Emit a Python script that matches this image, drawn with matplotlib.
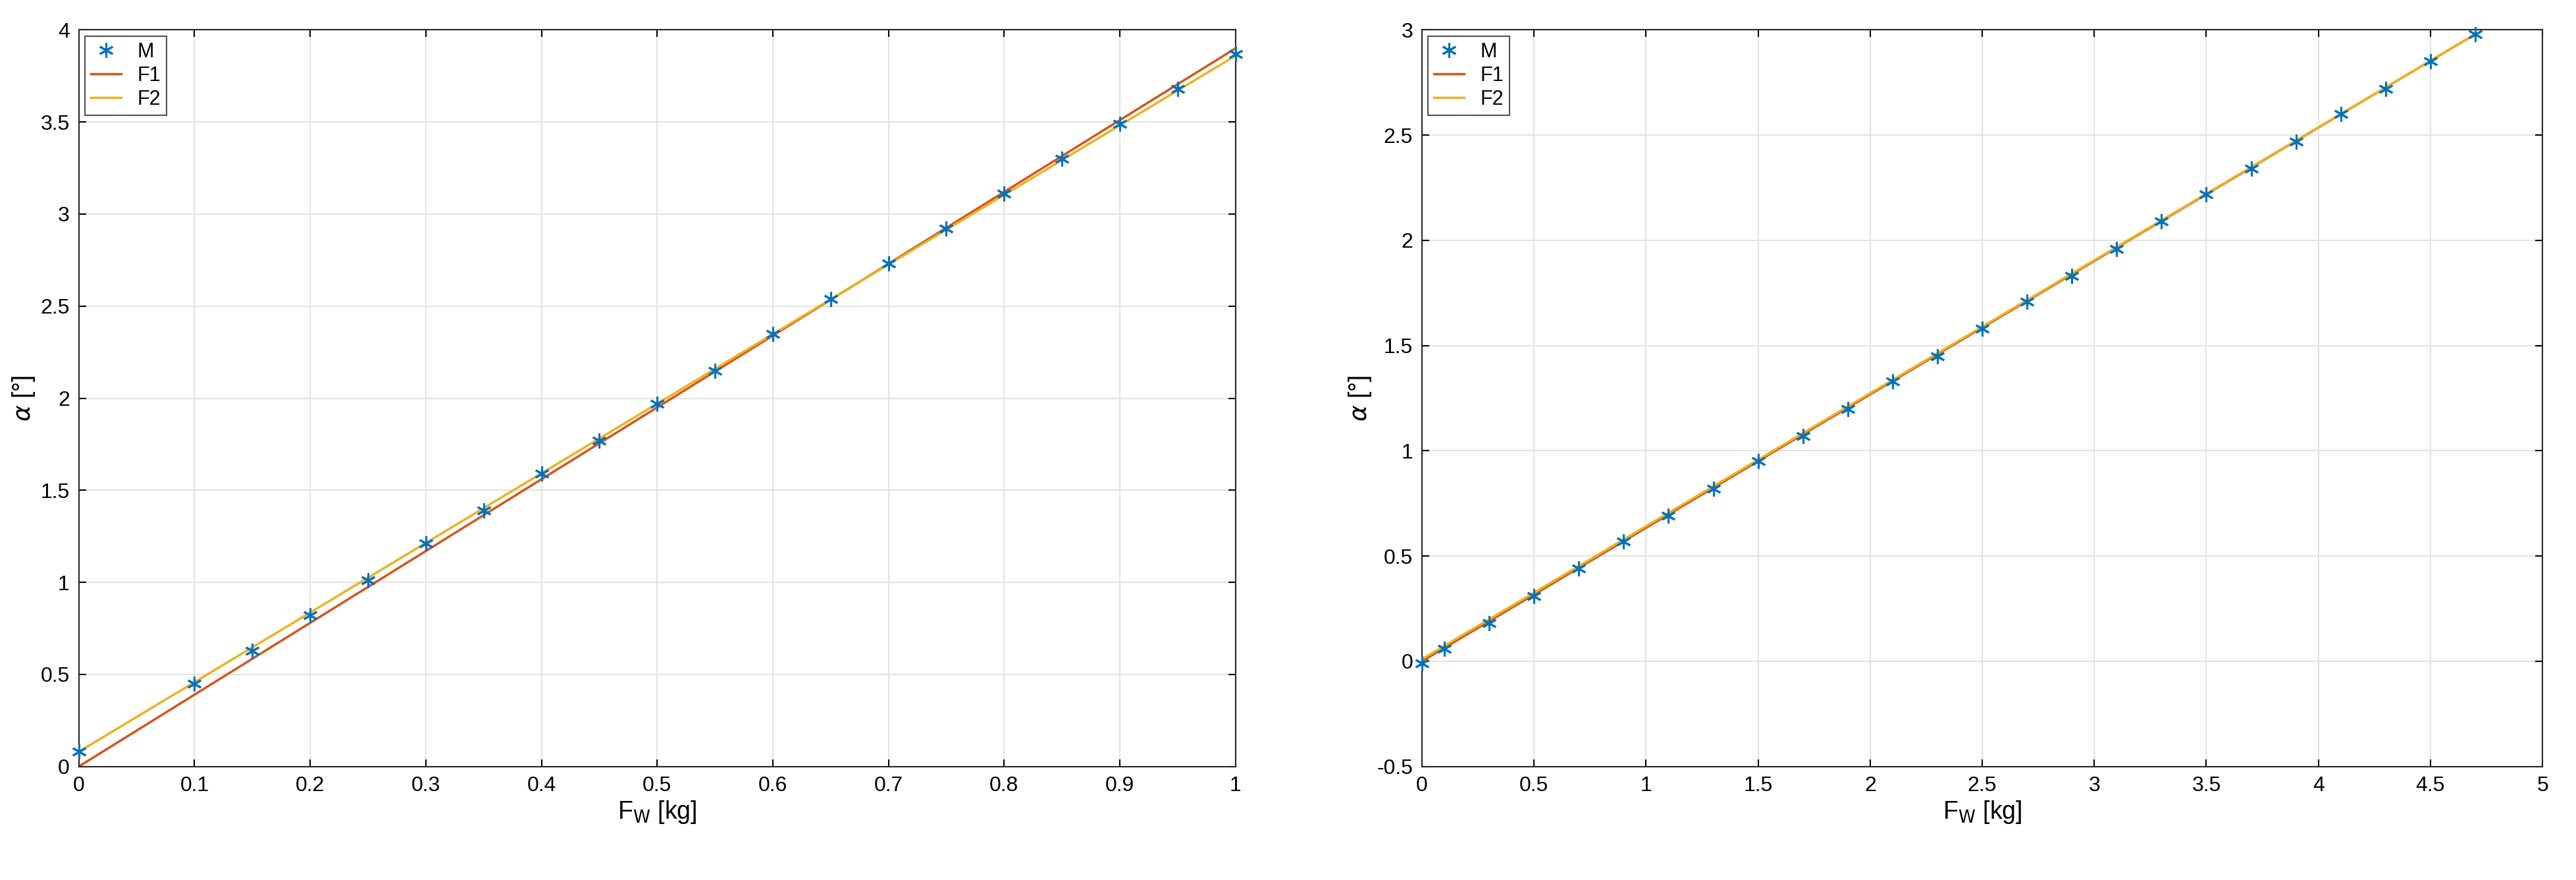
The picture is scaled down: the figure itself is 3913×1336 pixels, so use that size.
import numpy as np
import matplotlib.pyplot as plt

# left panel data
left_x = [0, 0.1, 0.15, 0.2, 0.25, 0.3, 0.35, 0.4, 0.45, 0.5, 0.55, 0.6, 0.65, 0.7, 0.75, 0.8, 0.85, 0.9, 0.95, 1.0]
left_m = [0.08, 0.45, 0.63, 0.82, 1.01, 1.21, 1.39, 1.59, 1.77, 1.97, 2.15, 2.35, 2.54, 2.73, 2.92, 3.11, 3.30, 3.49, 3.68, 3.87]
left_fx = [0, 1]
left_f1 = [0.0, 3.90]
left_f2 = [0.08, 3.86]

# right panel data
right_x = [0, 0.1, 0.3, 0.5, 0.7, 0.9, 1.1, 1.3, 1.5, 1.7, 1.9, 2.1, 2.3, 2.5, 2.7, 2.9, 3.1, 3.3, 3.5, 3.7, 3.9, 4.1, 4.3, 4.5, 4.7]
right_m = [-0.01, 0.06, 0.18, 0.31, 0.44, 0.57, 0.69, 0.82, 0.95, 1.07, 1.20, 1.33, 1.45, 1.58, 1.71, 1.83, 1.96, 2.09, 2.22, 2.34, 2.47, 2.60, 2.72, 2.85, 2.98]
right_fx = [0, 4.7]
right_f1 = [0.0, 2.98]
right_f2 = [0.01, 2.98]

C_M, C_F1, C_F2 = '#0072BD', '#D95319', '#EDB120'

plt.rcParams['font.family'] = ['Liberation Sans', 'DejaVu Sans']
plt.rcParams['mathtext.fontset'] = 'dejavusans'
fig = plt.figure(figsize=(39.13, 13.36), dpi=100)
ax1 = fig.add_axes([0.0306, 0.129, 0.449, 0.837])
ax2 = fig.add_axes([0.552, 0.129, 0.435, 0.837])


def draw(ax, x, m, fx, f1, f2, xlim, ylim, xticks, yticks):
    ax.plot(x, m, linestyle='none', marker=(6, 2, 0), color=C_M, markersize=16,
            markeredgewidth=2.2, label='M', zorder=3, clip_on=False)
    ax.plot(fx, f1, '-', color=C_F1, lw=2.5, label='F1')
    ax.plot(fx, f2, '-', color=C_F2, lw=2.5, label='F2')
    ax.set_xlim(*xlim)
    ax.set_ylim(*ylim)
    ax.set_xticks(xticks)
    ax.set_yticks(yticks)
    ax.set_xticklabels([('%g' % t) for t in xticks])
    ax.set_yticklabels([('%g' % t) for t in yticks])
    ax.grid(True, color='#e3e3e3', lw=1.5)
    ax.tick_params(direction='in', labelsize=23, length=8, width=1.5, top=True, right=True, pad=10)
    for s in ax.spines.values():
        s.set_linewidth(1.5)
        s.set_color('#262626')
    ax.set_xlabel(r'F$_\mathrm{W}$ [kg]', fontsize=27)
    ax.set_ylabel(r'$\alpha$ [°]', fontsize=27)
    leg = ax.legend(loc='upper left', fontsize=22, fancybox=False, edgecolor='#262626',
                    borderaxespad=0.3, handlelength=1.5, borderpad=0.3, labelspacing=0.2)
    leg.get_frame().set_linewidth(1.5)


draw(ax1, left_x, left_m, left_fx, left_f1, left_f2, (0, 1), (0, 4),
     np.arange(0, 1.01, 0.1).round(1), np.arange(0, 4.01, 0.5))
draw(ax2, right_x, right_m, right_fx, right_f1, right_f2, (0, 5), (-0.5, 3),
     np.arange(0, 5.01, 0.5), np.arange(-0.5, 3.01, 0.5))

fig.savefig('out.png', dpi=100, facecolor='white')
